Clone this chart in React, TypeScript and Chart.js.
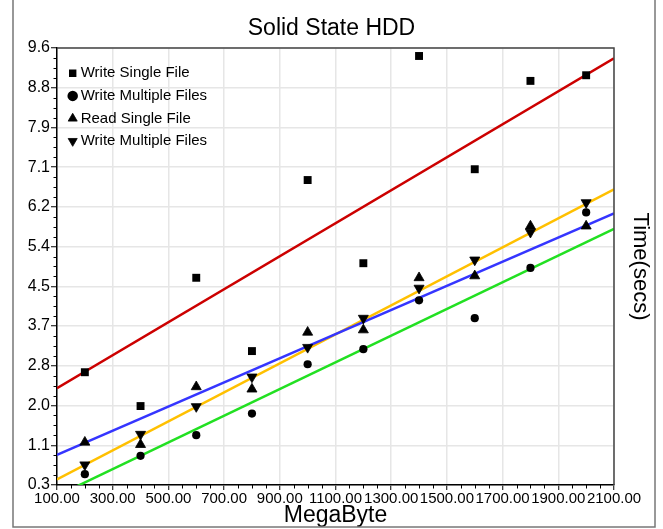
import React, { useEffect, useRef } from 'react';
import { Chart, registerables } from 'chart.js';

Chart.register(...registerables);

const FONT = "'Liberation Sans', Arial, Helvetica, sans-serif";

// Measurements (MegaByte)
const xValues = [200, 400, 600, 800, 1000, 1200, 1400, 1600, 1800, 2000];

// Time (secs) per series
const writeSingleFile = [2.70, 1.98, 4.71, 3.15, 6.79, 5.02, 9.43, 7.02, 8.90, 9.02];
const writeMultipleFiles = [0.53, 0.92, 1.36, 1.82, 2.87, 3.19, 4.23, 3.85, 4.92, 6.10];
const readSingleFile = [1.21, 1.16, 2.39, 2.34, 3.55, 3.60, 4.71, 4.75, 5.81, 5.81];
const writeMultipleFilesB = [0.73, 1.38, 1.97, 2.60, 3.23, 3.85, 4.49, 5.09, 5.68, 6.31];

// Trend lines: value at x = 100 and x = 2100
const fitX = [100, 2100];
const writeSingleFit = [2.36, 9.38];
const readSingleFit = [0.94, 6.08];
const writeMultipleBFit = [0.42, 6.59];
const writeMultipleFit = [0.07, 5.75];

// Axis ticks
const xTickValues = [100, 300, 500, 700, 900, 1100, 1300, 1500, 1700, 1900, 2100];
const xTickLabels = ['100.00', '300.00', '500.00', '700.00', '900.00', '1100.00', '1300.00', '1500.00', '1700.00', '1900.00', '2100.00'];
const yTickValues = [0.3, 1.145, 1.991, 2.836, 3.682, 4.527, 5.373, 6.218, 7.064, 7.909, 8.755, 9.6];
const yTickLabels = ['0.3', '1.1', '2.0', '2.8', '3.7', '4.5', '5.4', '6.2', '7.1', '7.9', '8.8', '9.6'];

const pts = (ys: number[]) => xValues.map((x, i) => ({ x, y: ys[i] }));
const fitPts = (ys: number[]) => fitX.map((x, i) => ({ x, y: ys[i] }));

const legendShift = {
  id: 'legendShift',
  afterLayout(chart: any) {
    const lg = chart.legend;
    if (lg) {
      lg.left = chart.chartArea.left + 7.6;
      lg.top = chart.chartArea.top + 10.2;
    }
  },
};

const decorations = {
  id: 'decorations',
  afterDraw(chart: any) {
    const { ctx, chartArea: a, scales } = chart;
    const xs = scales.x;
    const ys = scales.y;
    ctx.save();
    ctx.strokeStyle = '#000';
    ctx.lineWidth = 1;
    ctx.beginPath();
    for (let i = 0; i < xTickValues.length - 1; i++) {
      const step = (xTickValues[i + 1] - xTickValues[i]) / 4;
      for (let k = 1; k < 4; k++) {
        const px = Math.round(xs.getPixelForValue(xTickValues[i] + k * step)) + 0.5;
        ctx.moveTo(px, a.bottom);
        ctx.lineTo(px, a.bottom + 3.5);
      }
    }
    for (let i = 0; i < yTickValues.length - 1; i++) {
      const step = (yTickValues[i + 1] - yTickValues[i]) / 4;
      for (let k = 1; k < 4; k++) {
        const py = Math.round(ys.getPixelForValue(yTickValues[i] + k * step)) + 0.5;
        ctx.moveTo(a.left - 3.5, py);
        ctx.lineTo(a.left, py);
      }
    }
    ctx.stroke();
    ctx.strokeStyle = '#444';
    ctx.lineWidth = 1.5;
    ctx.beginPath();
    ctx.moveTo(a.left, a.top);
    ctx.lineTo(a.right, a.top);
    ctx.lineTo(a.right, a.bottom);
    ctx.stroke();
    ctx.strokeStyle = '#777';
    ctx.lineWidth = 1.5;
    ctx.strokeRect(13, -2, 642, 529);
    ctx.restore();
  },
};

export default function App() {
  const ref = useRef<HTMLCanvasElement | null>(null);

  useEffect(() => {
    if (!ref.current) return;
    Chart.defaults.font.family = FONT;
    Chart.defaults.color = '#000';

    const pointDs = (label: string, data: number[], style: string, radius: number, rotation = 0, bw = 0) => ({
      label,
      data: pts(data),
      showLine: false,
      pointStyle: style,
      pointRadius: radius,
      pointHoverRadius: radius,
      pointRotation: rotation,
      backgroundColor: '#000',
      borderColor: '#000',
      borderWidth: bw,
    });
    const lineDs = (label: string, data: number[], color: string) => ({
      label,
      data: fitPts(data),
      showLine: true,
      pointRadius: 0,
      borderColor: color,
      backgroundColor: color,
      borderWidth: 2.5,
      fill: false,
    });

    const chart = new Chart(ref.current, {
      type: 'scatter',
      data: {
        datasets: [
          pointDs('Write Single File', writeSingleFile, 'rect', 5.6),
          pointDs('Write Multiple Files', writeMultipleFiles, 'circle', 4.1),
          pointDs('Read Single File', readSingleFile, 'triangle', 5.8, 0, 0.8),
          pointDs('Write Multiple Files', writeMultipleFilesB, 'triangle', 5.8, 180, 0.8),
          lineDs('fit1', writeSingleFit, '#cc0000'),
          lineDs('fit2', readSingleFit, '#3535ff'),
          lineDs('fit3', writeMultipleBFit, '#ffc000'),
          lineDs('fit4', writeMultipleFit, '#22e022'),
        ],
      } as any,
      options: {
        responsive: false,
        animation: false,
        layout: { padding: 0 },
        events: [],
        plugins: {
          title: {
            display: true,
            text: 'Solid State HDD',
            color: '#000',
            font: { size: 23, weight: 'normal', family: FONT },
            padding: { top: 14.5, bottom: 5.9 },
          },
          legend: {
            position: 'chartArea' as any,
            align: 'start',
            labels: {
              usePointStyle: true,
              boxWidth: 1,
              boxHeight: 7.4,
              padding: 7.6,
              color: '#000',
              font: { size: 15, family: FONT },
              filter: (item: any) => item.datasetIndex < 4,
            },
          },
          tooltip: { enabled: false },
        },
        scales: {
          x: {
            type: 'linear',
            position: 'bottom',
            min: 100,
            max: 2100,
            afterBuildTicks: (s: any) => {
              s.ticks = xTickValues.map((v) => ({ value: v }));
            },
            afterFit: (s: any) => {
              s.height = 44;
            },
            ticks: {
              autoSkip: false,
              maxRotation: 0,
              minRotation: 0,
              padding: 0,
              color: '#000',
              font: { size: 15, family: FONT },
              callback: (_v: any, i: number) => xTickLabels[i],
            },
            grid: { color: '#e6e6e6', lineWidth: 1.5, tickColor: '#000', tickLength: 5, tickWidth: 1 },
            border: { display: true, color: '#000', width: 1.5 },
            title: {
              display: true,
              text: 'MegaByte',
              color: '#000',
              font: { size: 23, family: FONT },
              padding: { top: 0, bottom: 0 },
            },
          },
          y: {
            type: 'linear',
            position: 'left',
            min: 0.3,
            max: 9.6,
            afterBuildTicks: (s: any) => {
              s.ticks = yTickValues.map((v) => ({ value: v }));
            },
            afterFit: (s: any) => {
              s.width = 57;
            },
            ticks: {
              autoSkip: false,
              padding: 1,
              color: '#000',
              font: { size: 16, family: FONT },
              callback: (_v: any, i: number) => yTickLabels[i],
            },
            grid: { color: '#e6e6e6', lineWidth: 1.5, tickColor: '#000', tickLength: 6, tickWidth: 1 },
            border: { display: true, color: '#000', width: 1.5 },
          },
          y2: {
            type: 'linear',
            position: 'right',
            afterFit: (s: any) => {
              s.width = 49;
            },
            ticks: { display: false },
            grid: { display: false, drawTicks: false },
            border: { display: false },
            title: {
              display: true,
              text: 'Time(secs)',
              color: '#000',
              font: { size: 22, family: FONT },
              padding: { top: 10, bottom: 0 },
            },
          },
        },
      } as any,
      plugins: [legendShift, decorations],
    });
    return () => chart.destroy();
  }, []);

  return (
    <div style={{ position: 'fixed', left: 0, top: 0, width: 663, height: 529, background: '#fff' }}>
      <canvas ref={ref} width={663} height={529} style={{ width: 663, height: 529, display: 'block' }} />
    </div>
  );
}
